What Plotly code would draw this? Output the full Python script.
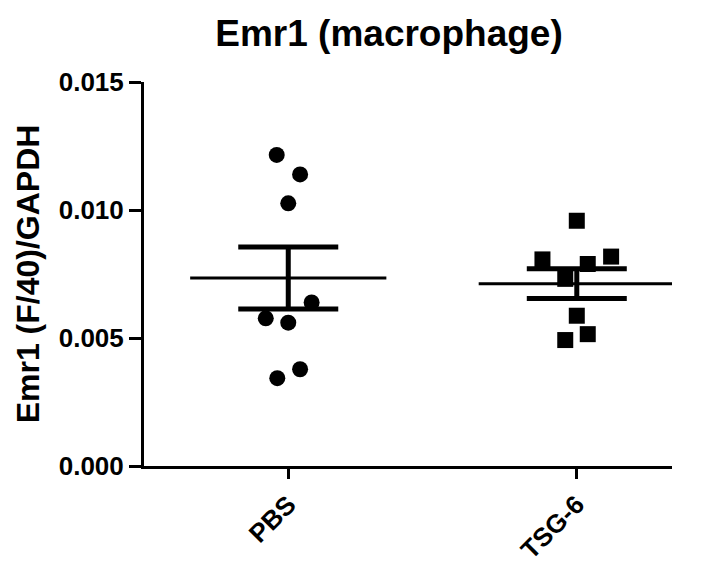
import numpy as np
import plotly.graph_objects as go

# ---- data ----
groups = ["PBS", "TSG-6"]
pbs_values = [0.01215, 0.01139, 0.01026, 0.00639, 0.00577, 0.00560, 0.00378, 0.00343]
tsg_values = [0.00958, 0.00807, 0.00818, 0.00789, 0.00731, 0.00587, 0.00515, 0.00492]
y_ticks = [0.000, 0.005, 0.010, 0.015]
y_tick_labels = ["0.000", "0.005", "0.010", "0.015"]
title_text = "Emr1 (macrophage)"
y_title = "Emr1 (F/40)/GAPDH"

# horizontal scatter offsets (category units) as drawn in the dot plot
pbs_jitter = [-0.040, 0.041, 0.0, 0.081, -0.078, 0.0, 0.041, -0.038]
tsg_jitter = [0.0, -0.119, 0.119, 0.038, -0.040, 0.0, 0.038, -0.040]

series = [
    (pbs_values, pbs_jitter, "circle"),
    (tsg_values, tsg_jitter, "square"),
]

FONT = "Liberation Sans, Arial, sans-serif"
MEAN_HALF = 0.34

fig = go.Figure()

for i, (vals, jit, sym) in enumerate(series):
    v = np.array(vals)
    mean = v.mean()
    sem = v.std(ddof=1) / np.sqrt(len(v))
    # mean line
    fig.add_trace(go.Scatter(
        x=[i - MEAN_HALF, i + MEAN_HALF], y=[mean, mean], mode="lines",
        line=dict(color="black", width=3), showlegend=False, cliponaxis=False,
        hoverinfo="skip"))
    # SEM error bar
    fig.add_trace(go.Scatter(
        x=[i], y=[mean], mode="markers", marker=dict(size=1, opacity=0),
        error_y=dict(type="data", array=[sem], visible=True, color="black",
                     thickness=5, width=50),
        showlegend=False, cliponaxis=False, hoverinfo="skip"))
    # points
    fig.add_trace(go.Scatter(
        x=[i + j for j in jit], y=vals, mode="markers",
        marker=dict(symbol=sym, size=16, color="black", line=dict(width=0)),
        showlegend=False, cliponaxis=False))

fig.update_layout(
    width=724, height=566,
    margin=dict(l=144, r=52, t=82, b=100),
    paper_bgcolor="white", plot_bgcolor="white",
    font=dict(family=FONT, color="black", weight="bold"),
    title=dict(text=title_text, x=389 / 724, xanchor="center",
               y=1 - 33 / 566, yanchor="middle", yref="container",
               font=dict(size=37, family=FONT, weight="bold")),
)
fig.update_xaxes(
    range=[-0.5, 1.33], tickvals=[0, 1], ticktext=groups, tickangle=-45,
    showline=True, linecolor="black", linewidth=3,
    ticks="outside", ticklen=10, tickwidth=3, tickcolor="black",
    showgrid=False, zeroline=False, automargin=False,
    tickfont=dict(size=26, family=FONT, weight="bold"))
fig.update_yaxes(
    range=[0, 0.015], tickvals=y_ticks, ticktext=y_tick_labels,
    showline=True, linecolor="black", linewidth=3,
    ticks="outside", ticklen=12, tickwidth=3, tickcolor="black",
    showgrid=False, zeroline=False, automargin=False,
    tickfont=dict(size=26, family=FONT, weight="bold"),
    title=dict(text=y_title, font=dict(size=32, family=FONT, weight="bold"), standoff=10))

fig.write_html("out.html")
